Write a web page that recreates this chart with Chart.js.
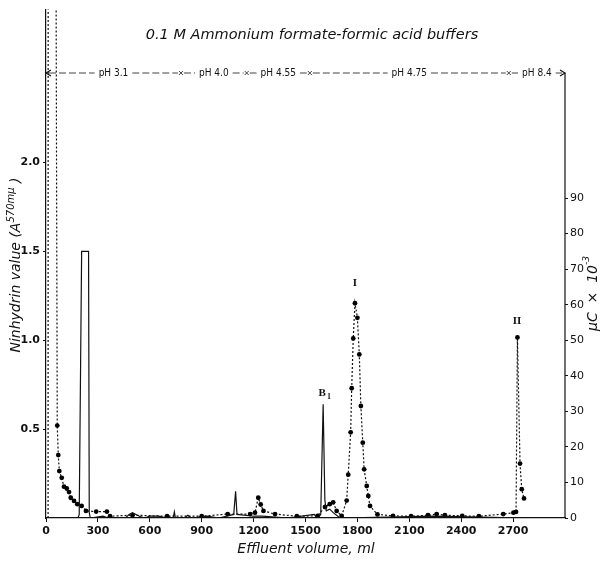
<!DOCTYPE html>
<html>
<head>
<meta charset="utf-8">
<script src="https://cdn.jsdelivr.net/npm/chart.js@4.4.1/dist/chart.umd.min.js"></script>
<style>
  body { margin: 0; background: #fff; }
  #wrap { width: 601px; height: 564px; }
</style>
</head>
<body>
<div id="wrap"><canvas id="chart" width="601" height="564"></canvas></div>
<script>
// DATA
// ninhydrin, solid line, left axis
const ninVolume = [0, 185, 192, 206, 246, 250, 256, 330, 360, 460, 480, 500, 520, 540, 570, 600, 650, 700, 735, 742, 748, 800, 820, 840, 930, 1000, 1085, 1096, 1104, 1200, 1250, 1400, 1550, 1570, 1588, 1602, 1612, 1620, 1640, 1660, 1700, 2250, 2780];
const ninValue  = [0, 0, 0.02, 1.5, 1.5, 0.03, 0, 0.01, 0, 0, 0.02, 0.03, 0.02, 0.01, 0, 0.01, 0.01, 0, 0, 0.035, 0, 0, 0.015, 0, 0.01, 0, 0.02, 0.15, 0.02, 0.01, 0.01, 0, 0.02, 0, 0.02, 0.64, 0.1, 0.04, 0.05, 0.03, 0, 0.01, 0];

// radioactivity, dotted line with dots, right axis (uC x 10^-3)
const radVolume = [12, 13, 50, 65, 71, 77, 91, 104, 120, 133, 143, 162, 181, 206, 231, 290, 352, 370, 500, 700, 900, 1050, 1180, 1208, 1227, 1241, 1257, 1324, 1450, 1570, 1613, 1640, 1660, 1680, 1709, 1738, 1747, 1761, 1767, 1776, 1786, 1800, 1811, 1820, 1831, 1839, 1854, 1863, 1873, 1916, 2006, 2110, 2208, 2258, 2306, 2406, 2502, 2643, 2702, 2717, 2725, 2740, 2750, 2763];
const radValue  = [0, 300, 300, 26, 17.7, 13.2, 11.3, 8.8, 8.3, 7.3, 5.7, 4.8, 3.9, 3.4, 2.0, 1.8, 1.8, 0.5, 0.8, 0.5, 0.5, 1.1, 1.1, 1.5, 5.7, 3.8, 2.0, 1.1, 0.5, 0.6, 3.1, 3.9, 4.4, 2.0, 0.6, 4.9, 12.2, 24.1, 36.5, 50.5, 60.4, 56.3, 46, 31.5, 21.2, 13.7, 9, 6.2, 3.4, 1.0, 0.6, 0.5, 0.8, 1.1, 0.8, 0.6, 0.5, 1.1, 1.5, 1.7, 50.8, 15.3, 8.1, 5.5];

const xTicks = [0, 300, 600, 900, 1200, 1500, 1800, 2100, 2400, 2700];
const leftTicks = [0.5, 1.0, 1.5, 2.0];
const rightTicks = [0, 10, 20, 30, 40, 50, 60, 70, 80, 90];

// buffer changes along the top
const phBreaks = [780, 1160, 1525, 2675];
const phLabels = ["pH 3.1", "pH 4.0", "pH 4.55", "pH 4.75", "pH 8.4"];

const X_MAX = 3000;
const LEFT_MAX = 2.86;
const RIGHT_MAX = LEFT_MAX * 50;

const tickFont = { family: "'DejaVu Sans', sans-serif", size: 11, weight: "bold" };
const titleFont = "italic 14px 'DejaVu Sans', sans-serif";

function fixTicks(list) {
  return scale => { scale.ticks = list.map(v => ({ value: v })); };
}

// extra drawing: titles, pH line, peak labels
const extras = {
  id: "extras",
  afterDraw(chart) {
    const c = chart.ctx;
    const xs = chart.scales.x, yl = chart.scales.y, yr = chart.scales.y2;
    const area = chart.chartArea;
    c.save();
    c.fillStyle = "#111";
    c.strokeStyle = "#111";

    // title
    c.font = "italic 14.5px 'DejaVu Sans', sans-serif";
    c.textAlign = "center";
    c.textBaseline = "middle";
    c.fillText("0.1 M Ammonium formate-formic acid buffers", 312, 35);

    // x title
    c.font = titleFont;
    c.fillText("Effluent volume, ml", 306, 549);

    // left title with superscript
    c.save();
    c.translate(16, 265);
    c.rotate(-Math.PI / 2);
    const a = "Ninhydrin value (A", s = "570mμ", b = " )";
    c.font = titleFont;
    const wa = c.measureText(a).width, wb = c.measureText(b).width;
    c.font = "italic 10px 'DejaVu Sans', sans-serif";
    const ws = c.measureText(s).width;
    let x0 = -(wa + ws + wb) / 2;
    c.textAlign = "left";
    c.font = titleFont;
    c.fillText(a, x0, 0);
    c.font = "italic 10px 'DejaVu Sans', sans-serif";
    c.fillText(s, x0 + wa, -5);
    c.font = titleFont;
    c.fillText(b, x0 + wa + ws, 0);
    c.restore();

    // right title
    c.save();
    c.translate(593, 292);
    c.rotate(-Math.PI / 2);
    c.textAlign = "left";
    const r1 = "μC  ×  10";
    c.font = titleFont;
    const wr = c.measureText(r1).width;
    c.fillText(r1, -wr / 2 - 6, 0);
    c.font = "italic 9px 'DejaVu Sans', sans-serif";
    c.fillText("-3", wr / 2 - 6, -6);
    c.restore();

    // right axis line (starts under the pH arrow)
    const phY = 73;
    c.lineWidth = 1.2;
    c.beginPath();
    c.moveTo(area.right, phY);
    c.lineTo(area.right, area.bottom);
    c.stroke();

    // pH line with labels
    c.font = "10px 'DejaVu Sans Condensed', 'DejaVu Sans', sans-serif";
    c.textAlign = "center";
    const edges = [0].concat(phBreaks, [X_MAX]);
    c.lineWidth = 0.8;
    c.setLineDash([7, 3]);
    for (let i = 0; i < phLabels.length; i++) {
      const p0 = xs.getPixelForValue(edges[i]), p1 = xs.getPixelForValue(edges[i + 1]);
      const mid = (p0 + p1) / 2;
      const w = c.measureText(phLabels[i]).width / 2 + 4;
      c.beginPath();
      c.moveTo(p0 + 3, phY); c.lineTo(mid - w, phY);
      c.moveTo(mid + w, phY); c.lineTo(p1 - 3, phY);
      c.stroke();
      c.fillText(phLabels[i], mid, phY);
    }
    c.setLineDash([]);
    // arrowheads at ends and break marks
    const arrow = (x, dir) => {
      c.beginPath();
      c.moveTo(x + dir * 5, phY - 3); c.lineTo(x, phY); c.lineTo(x + dir * 5, phY + 3);
      c.stroke();
    };
    c.lineWidth = 1.2;
    arrow(area.left, 1);
    arrow(area.right, -1);
    c.lineWidth = 0.8;
    phBreaks.forEach(v => {
      const px = xs.getPixelForValue(v);
      c.beginPath();
      c.moveTo(px - 2, phY - 2); c.lineTo(px + 2, phY + 2);
      c.moveTo(px + 2, phY - 2); c.lineTo(px - 2, phY + 2);
      c.stroke();
    });

    // peak labels
    c.font = "bold 11px 'Liberation Serif', serif";
    c.fillText("I", xs.getPixelForValue(1786), yr.getPixelForValue(66));
    c.fillText("II", xs.getPixelForValue(2722), yr.getPixelForValue(55.3));
    c.fillText("B", xs.getPixelForValue(1596), yl.getPixelForValue(0.70));
    c.font = "bold 8px 'Liberation Serif', serif";
    c.fillText("1", xs.getPixelForValue(1596) + 7, yl.getPixelForValue(0.70) + 3);

    c.restore();
  }
};

new Chart(document.getElementById("chart"), {
  type: "line",
  data: {
    datasets: [
      {
        label: "Ninhydrin",
        data: ninVolume.map((v, i) => ({ x: v, y: ninValue[i] })),
        yAxisID: "y",
        borderColor: "#111",
        borderWidth: 1.2,
        pointRadius: 0,
        tension: 0
      },
      {
        label: "Radioactivity",
        data: radVolume.map((v, i) => ({ x: v, y: radValue[i] })),
        yAxisID: "y2",
        borderColor: "#111",
        borderWidth: 1.2,
        borderDash: [2, 2],
        pointRadius: ctx => (ctx.raw && (ctx.raw.y > RIGHT_MAX || ctx.raw.y === 0)) ? 0 : 2.4,
        pointBackgroundColor: "#000",
        pointBorderWidth: 0,
        tension: 0
      }
    ]
  },
  options: {
    responsive: false,
    animation: false,
    layout: { padding: { top: 8, left: 0, right: 0, bottom: 0 } },
    plugins: { legend: { display: false }, tooltip: { enabled: false } },
    scales: {
      x: {
        type: "linear",
        min: 0, max: X_MAX,
        afterBuildTicks: fixTicks(xTicks),
        afterFit: s => { s.height = 46; },
        grid: { drawOnChartArea: false, tickLength: 4, color: "#111" },
        border: { color: "#111", width: 1.2 },
        ticks: { font: tickFont, color: "#111", padding: 3, maxRotation: 0, autoSkip: false, callback: v => String(v) }
      },
      y: {
        type: "linear", position: "left",
        min: 0, max: LEFT_MAX,
        afterBuildTicks: fixTicks(leftTicks),
        afterFit: s => { s.width = 46; },
        grid: { drawOnChartArea: false, tickLength: 3, color: "#111" },
        border: { color: "#111", width: 1.2 },
        ticks: { font: tickFont, color: "#111", padding: 3, callback: v => v.toFixed(1) }
      },
      y2: {
        type: "linear", position: "right",
        min: 0, max: RIGHT_MAX,
        afterBuildTicks: fixTicks(rightTicks),
        afterFit: s => { s.width = 36; },
        grid: { drawOnChartArea: false, tickLength: 3, color: "#111" },
        border: { display: false },
        ticks: { font: { family: "'DejaVu Sans', sans-serif", size: 11 }, color: "#111", padding: 2 }
      }
    }
  },
  plugins: [extras]
});
</script>
</body>
</html>
